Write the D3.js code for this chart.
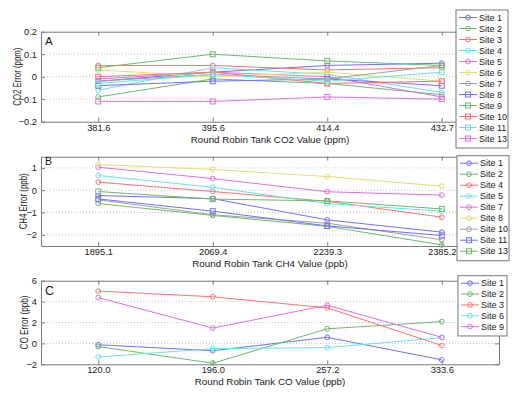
<!DOCTYPE html>
<html>
<head>
<meta charset="utf-8">
<script src="https://cdn.jsdelivr.net/npm/d3@7"></script>
<style>
  body { margin: 0; background: #fff; }
  text { font-family: "Liberation Sans", Arial, sans-serif; fill: #1a1a1a; }
</style>
</head>
<body>
<div id="chart-area"></div>
<script>
// ---- data ----
var co2Ticks = ["381.6", "395.6", "414.4", "432.7"];
var co2Sites = ["Site 1", "Site 2", "Site 3", "Site 4", "Site 5", "Site 6", "Site 7",
  "Site 8", "Site 9", "Site 10", "Site 11", "Site 13"];
var co2Values = [
  [-0.02, 0.02, 0.05, 0.06],
  [-0.09, -0.01, -0.03, -0.08],
  [0.05, 0.05, 0.03, 0.04],
  [-0.06, 0.04, 0.01, -0.07],
  [-0.01, 0.02, 0.0, -0.09],
  [0.03, 0.0, 0.02, -0.02],
  [-0.02, 0.01, -0.01, 0.05],
  [-0.04, -0.02, -0.01, -0.04],
  [0.04, 0.10, 0.07, 0.05],
  [0.0, 0.02, -0.03, -0.02],
  [-0.03, 0.01, -0.02, 0.02],
  [-0.11, -0.11, -0.09, -0.10]
];

var ch4Ticks = ["1895.1", "2069.4", "2239.3", "2385.2"];
var ch4Sites = ["Site 1", "Site 2", "Site 4", "Site 5", "Site 7", "Site 8", "Site 10",
  "Site 11", "Site 13"];
var ch4Values = [
  [-0.24, -0.38, -1.33, -1.88],
  [-0.6, -1.13, -1.62, -2.45],
  [0.36, -0.06, -0.5, -1.21],
  [0.66, 0.13, -0.6, -0.94],
  [1.03, 0.52, -0.07, -0.22],
  [1.15, 0.93, 0.61, 0.18],
  [-0.43, -1.1, -1.48, -2.22],
  [-0.39, -0.94, -1.6, -2.03],
  [-0.06, -0.4, -0.48, -0.84]
];

var coTicks = ["120.0", "196.0", "257.2", "333.6"];
var coSites = ["Site 1", "Site 2", "Site 3", "Site 6", "Site 9"];
var coValues = [
  [-0.13, -0.7, 0.58, -1.57],
  [-0.3, -1.9, 1.4, 2.08],
  [5.01, 4.46, 3.4, -0.2],
  [-1.3, -0.5, -0.4, 0.55],
  [4.38, 1.47, 3.65, 0.58]
];

// matlab style colour cycle, lightened
var colors = ["#7070ff", "#6cba6c", "#ff7272", "#6fe0e0", "#e070e0", "#e0e070", "#a0a0a0"];

var svg = d3.select("#chart-area")
  .append("svg")
  .attr("width", 520)
  .attr("height", 397);

var left = 41, right = 499;

function panel(opts) {
  var g = svg.append("g");

  var x = d3.scalePoint()
    .domain(opts.ticks)
    .range([left, right])
    .padding(0.5);

  var y = d3.scaleLinear()
    .domain(opts.ylim)
    .range([opts.bottom, opts.top]);

  // grid
  g.selectAll(".grid")
    .data(opts.yticks.filter(function(d) { return d > opts.ylim[0] && d < opts.ylim[1]; }))
    .enter()
    .append("line")
    .attr("x1", left)
    .attr("x2", right)
    .attr("y1", function(d) { return y(d); })
    .attr("y2", function(d) { return y(d); })
    .attr("stroke", "#c4c4c4")
    .attr("stroke-width", 1)
    .attr("stroke-dasharray", "1,2");

  // axes with inward ticks
  g.append("g")
    .attr("transform", "translate(" + left + ",0)")
    .call(d3.axisLeft(y).tickValues(opts.yticks).tickSizeInner(-4).tickSizeOuter(0).tickPadding(4).tickFormat(opts.yfmt))
    .call(style);
  g.append("g")
    .attr("transform", "translate(" + right + ",0)")
    .call(d3.axisRight(y).tickValues(opts.yticks).tickSizeInner(-4).tickSizeOuter(0).tickFormat(""))
    .call(style);
  g.append("g")
    .attr("transform", "translate(0," + opts.bottom + ")")
    .call(d3.axisBottom(x).tickSizeInner(-4).tickSizeOuter(0).tickPadding(2.3))
    .call(style);
  g.append("g")
    .attr("transform", "translate(0," + opts.top + ")")
    .call(d3.axisTop(x).tickSizeInner(-4).tickSizeOuter(0).tickFormat(""))
    .call(style);

  // x label
  g.append("text")
    .attr("x", (left + right) / 2)
    .attr("y", opts.bottom + 21)
    .attr("text-anchor", "middle")
    .attr("font-size", "9.8px")
    .text(opts.xlabel);

  // y label
  g.append("text")
    .attr("transform", "translate(" + opts.ylabelX + "," + (opts.top + opts.bottom) / 2 + ") rotate(-90)")
    .attr("text-anchor", "middle")
    .attr("font-size", "10.5px")
    .attr("textLength", opts.ylabelLen)
    .attr("lengthAdjust", "spacingAndGlyphs")
    .text(opts.ylabel);

  // panel letter
  g.append("text")
    .attr("x", 45)
    .attr("y", opts.top + opts.letterDy)
    .attr("font-size", opts.letterSize)
    .text(opts.letter);

  // series
  var line = d3.line()
    .x(function(d, i) { return x(opts.ticks[i]); })
    .y(function(d) { return y(d); });

  opts.values.forEach(function(vals, k) {
    var c = colors[k % colors.length];
    g.append("path")
      .attr("d", line(vals))
      .attr("fill", "none")
      .attr("stroke", c)
      .attr("stroke-width", 1);
    drawMarkers(g, vals.map(function(v, i) { return [x(opts.ticks[i]), y(v)]; }), c, k >= 7);
  });

  // legend
  var n = opts.sites.length;
  var lg = g.append("g");
  lg.append("rect")
    .attr("x", opts.legX)
    .attr("y", opts.legY)
    .attr("width", opts.legW)
    .attr("height", n * opts.legStep + 6)
    .attr("fill", "#fff")
    .attr("stroke", "#777")
    .attr("stroke-width", 1);
  opts.sites.forEach(function(s, k) {
    var c = colors[k % colors.length];
    var yy = opts.legY + 7.5 + k * opts.legStep;
    lg.append("line")
      .attr("x1", opts.legX + 3)
      .attr("x2", opts.legX + 21)
      .attr("y1", yy)
      .attr("y2", yy)
      .attr("stroke", c);
    drawMarkers(lg, [[opts.legX + 12, yy]], c, k >= 7);
    lg.append("text")
      .attr("x", opts.legX + 23)
      .attr("y", yy)
      .attr("dy", "0.35em")
      .attr("font-size", "9px")
      .text(s);
  });
}

function drawMarkers(g, pts, c, square) {
  pts.forEach(function(p) {
    if (square) {
      g.append("rect")
        .attr("x", p[0] - 2.5)
        .attr("y", p[1] - 2.5)
        .attr("width", 5)
        .attr("height", 5)
        .attr("fill", "none")
        .attr("stroke", c);
    } else {
      g.append("circle")
        .attr("cx", p[0])
        .attr("cy", p[1])
        .attr("r", 2.4)
        .attr("fill", "none")
        .attr("stroke", c);
    }
  });
}

function style(sel) {
  sel.select(".domain").attr("stroke", "#7a7a7a");
  sel.selectAll(".tick line").attr("stroke", "#7a7a7a");
  sel.selectAll(".tick text").attr("font-size", "9.3px").attr("fill", "#1a1a1a");
}

panel({
  ticks: co2Ticks, values: co2Values, sites: co2Sites,
  ylim: [-0.2, 0.2], yticks: [-0.2, -0.1, 0, 0.1, 0.2],
  yfmt: function(d) { return d === 0 ? "0" : d3.format(".1f")(d); },
  top: 31.7, bottom: 121.7,
  xlabel: "Round Robin Tank CO2 Value (ppm)",
  ylabel: "CO2 Error (ppm)", ylabelX: 21, ylabelLen: 58,
  letter: "A", letterDy: 13.5, letterSize: "11.5px",
  legX: 456, legY: 10, legW: 52, legStep: 11
});

panel({
  ticks: ch4Ticks, values: ch4Values, sites: ch4Sites,
  ylim: [-2.5, 1.5], yticks: [-2, -1, 0, 1],
  yfmt: d3.format("d"),
  top: 156.7, bottom: 246,
  xlabel: "Round Robin Tank CH4 Value (ppb)",
  ylabel: "CH4 Error (ppb)", ylabelX: 26.5, ylabelLen: 56,
  letter: "B", letterDy: 8.5, letterSize: "10.5px",
  legX: 457, legY: 155.7, legW: 52, legStep: 11
});

panel({
  ticks: coTicks, values: coValues, sites: coSites,
  ylim: [-2, 6], yticks: [-2, 0, 2, 4, 6],
  yfmt: d3.format("d"),
  top: 280.7, bottom: 364.3,
  xlabel: "Round Robin Tank CO Value (ppb)",
  ylabel: "CO Error (ppb)", ylabelX: 28, ylabelLen: 54,
  letter: "C", letterDy: 14.5, letterSize: "12.5px",
  legX: 458, legY: 275.7, legW: 49, legStep: 10.85
});
</script>
</body>
</html>
